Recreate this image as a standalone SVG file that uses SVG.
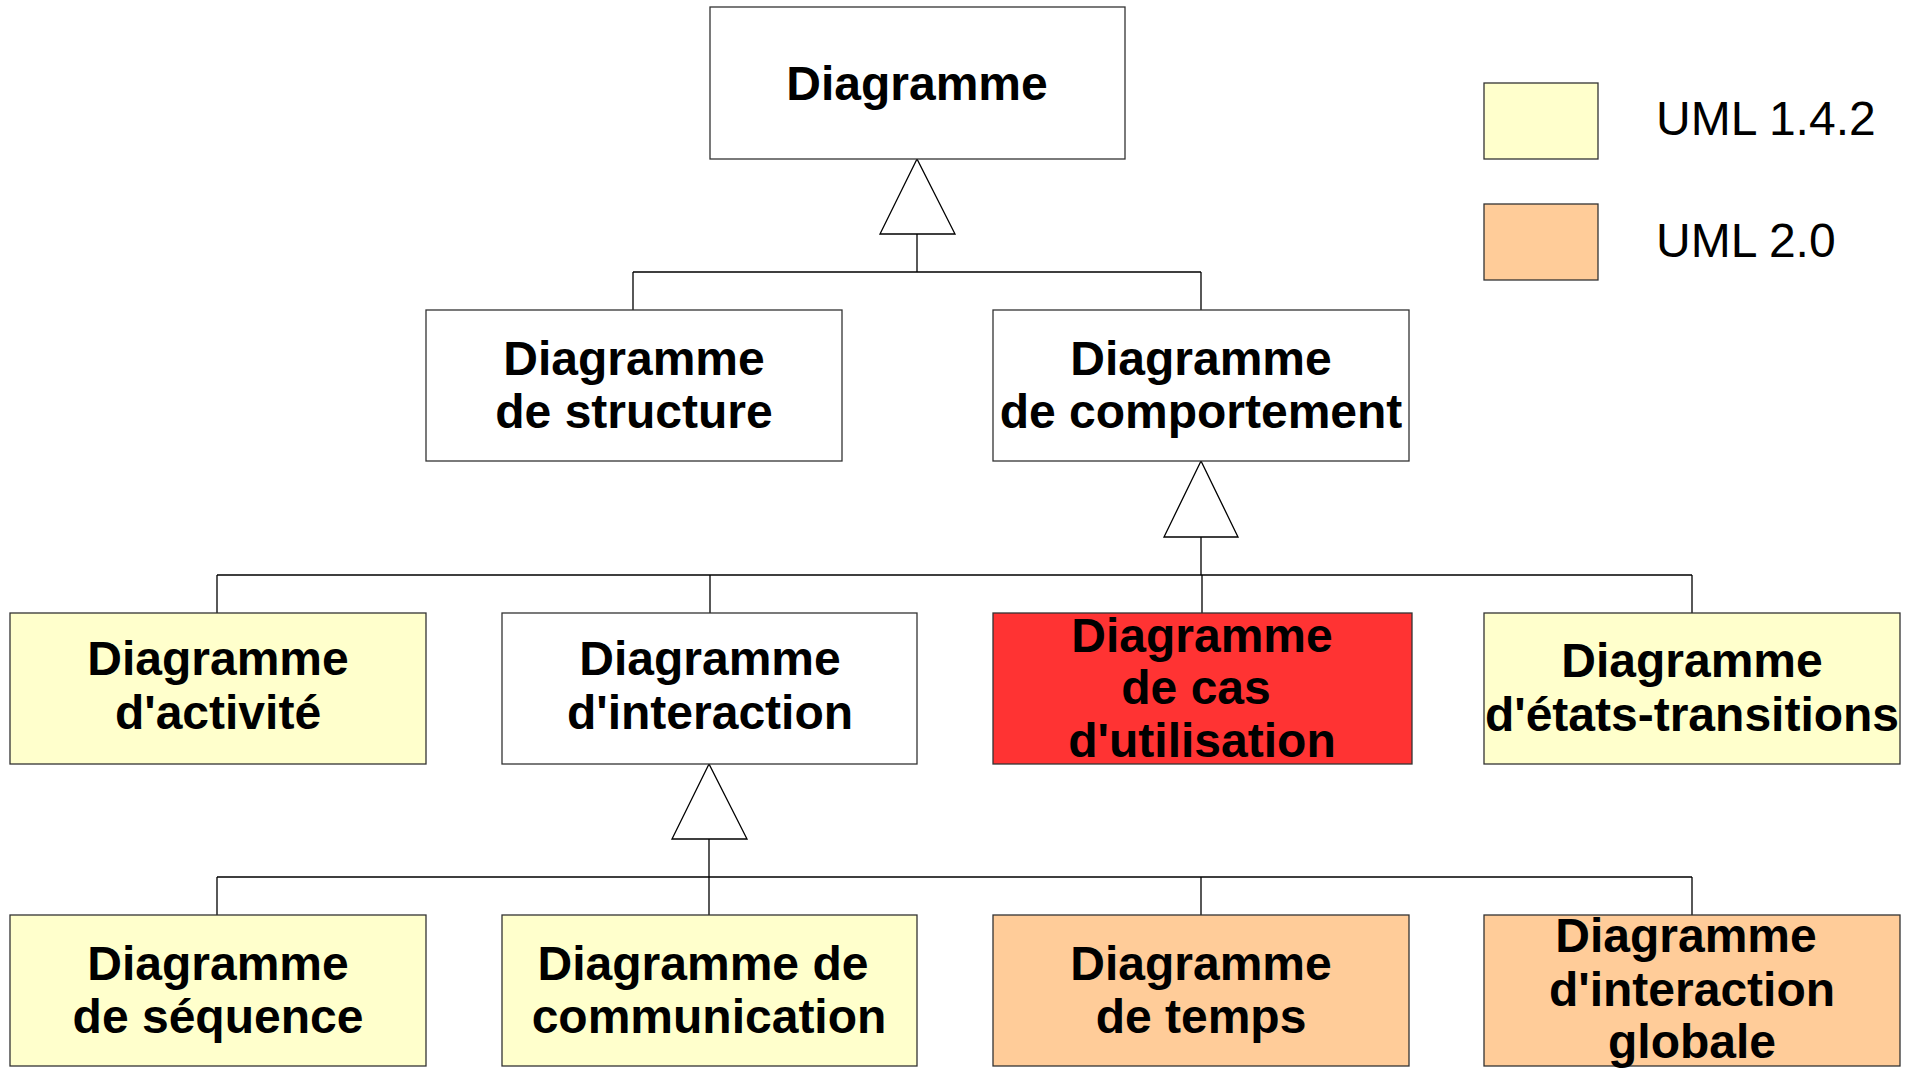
<svg xmlns="http://www.w3.org/2000/svg" width="1916" height="1069" viewBox="0 0 1916 1069">
<style>
.box{stroke:#333;stroke-width:1.3}
.w{fill:#fff}.y{fill:#ffffcc}.o{fill:#ffcc99}.r{fill:#ff3333}
.t{font-family:"Liberation Sans",Arial,sans-serif;font-weight:bold;font-size:48px;fill:#000;text-anchor:middle}
.lg{font-family:"Liberation Sans",Arial,sans-serif;font-size:48px;fill:#000}
.ln{stroke:#000;stroke-width:1.3;fill:none}
.tri{stroke:#000;stroke-width:1.3;fill:#fff}
</style>
<rect width="1916" height="1069" fill="#fff"/>
<g id="connectors">
<path class="ln" d="M917 234V272M633 272H1201M633 272V310M1201 272V310"/>
<polygon class="tri" points="917,159 880,234 955,234"/>
<path class="ln" d="M1201 537V575M217 575H1692M217 575V613M710 575V613M1202 575V613M1692 575V613"/>
<polygon class="tri" points="1201,461 1164,537 1238,537"/>
<path class="ln" d="M709 839V877M217 877H1692M217 877V915M709 877V915M1201 877V915M1692 877V915"/>
<polygon class="tri" points="709,764 672,839 747,839"/>
</g>
<g id="diagramme"><rect class="box w" x="710" y="7" width="415" height="152"/><text class="t" x="917" y="100">Diagramme</text></g>
<g id="structure"><rect class="box w" x="426" y="310" width="416" height="151"/><text class="t" x="634" y="375">Diagramme</text><text class="t" x="634" y="428">de structure</text></g>
<g id="comportement"><rect class="box w" x="993" y="310" width="416" height="151"/><text class="t" x="1201" y="375">Diagramme</text><text class="t" x="1201" y="428">de comportement</text></g>
<g id="activite"><rect class="box y" x="10" y="613" width="416" height="151"/><text class="t" x="218" y="675">Diagramme</text><text class="t" x="218" y="729">d'activité</text></g>
<g id="interaction"><rect class="box w" x="502" y="613" width="415" height="151"/><text class="t" x="710" y="675">Diagramme</text><text class="t" x="710" y="729">d'interaction</text></g>
<g id="casutilisation"><rect class="box r" x="993" y="613" width="419" height="151"/><text class="t" x="1202" y="652">Diagramme</text><text class="t" x="1196" y="704">de cas</text><text class="t" x="1202" y="757">d'utilisation</text></g>
<g id="etats"><rect class="box y" x="1484" y="613" width="416" height="151"/><text class="t" x="1692" y="677">Diagramme</text><text class="t" x="1692" y="731">d'états-transitions</text></g>
<g id="sequence"><rect class="box y" x="10" y="915" width="416" height="151"/><text class="t" x="218" y="980">Diagramme</text><text class="t" x="218" y="1033">de séquence</text></g>
<g id="communication"><rect class="box y" x="502" y="915" width="415" height="151"/><text class="t" x="703" y="980">Diagramme de</text><text class="t" x="709" y="1033">communication</text></g>
<g id="temps"><rect class="box o" x="993" y="915" width="416" height="151"/><text class="t" x="1201" y="980">Diagramme</text><text class="t" x="1201" y="1033">de temps</text></g>
<g id="globale"><rect class="box o" x="1484" y="915" width="416" height="151"/><text class="t" x="1686" y="952">Diagramme</text><text class="t" x="1692" y="1006">d'interaction</text><text class="t" x="1692" y="1058">globale</text></g>
<g id="legend">
<rect class="box y" x="1484" y="83" width="114" height="76"/><text class="lg" x="1656" y="135">UML 1.4.2</text>
<rect class="box o" x="1484" y="204" width="114" height="76"/><text class="lg" x="1656" y="257">UML 2.0</text>
</g>
</svg>
